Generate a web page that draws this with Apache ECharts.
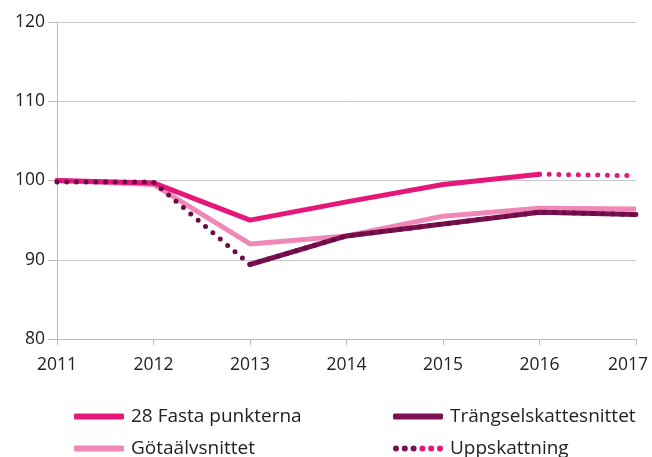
<!DOCTYPE html>
<html>
<head>
<meta charset="utf-8">
<script src="https://cdn.jsdelivr.net/npm/echarts@6/dist/echarts.min.js"></script>
<style>
  html, body { margin: 0; padding: 0; background: #fff; }
  #chart { width: 652px; height: 457px; }
</style>
</head>
<body>
<div id="chart"></div>
<script>
// Data
const years = ['2011', '2012', '2013', '2014', '2015', '2016', '2017'];
const fastaPunkterna = [100, 99.7, 95.0, 97.3, 99.5, 100.8, null];
const gotaalvsnittet = [100, 99.5, 92.0, 93.0, 95.5, 96.5, 96.4];
const trangselsnittet = [null, null, 89.4, 93.0, 94.5, 96.0, 95.7];
const uppskattningDark = [99.8, 99.8, 89.4, 93.0, 94.5, 96.0, 95.7];
const uppskattningPink = [null, null, null, null, null, 100.8, 100.6];

const PINK = '#e5177b';
const LIGHT = '#ef88b7';
const DARK = '#7b1152';
const FONT = 'Open Sans';

const chart = echarts.init(document.getElementById('chart'));

const dots = (color) => ({ color: color, width: 5, type: [0, 9.7], cap: 'round' });

// six round dots, used as legend icon for the estimate series
const dotIcon = 'path://' + [3, 11.8, 20.6, 29.4, 38.2, 47]
  .map(cx => `M${cx - 3},3A3,3,0,1,0,${cx + 3},3A3,3,0,1,0,${cx - 3},3Z`).join(' ');

const legendItem = (name, left, top, icon, color) => ({
  left: left, top: top,
  itemWidth: 50, itemHeight: 6, itemGap: 0,
  icon: icon,
  textStyle: { fontSize: 19, color: '#222', fontFamily: FONT, padding: [0, 0, 0, 2] },
  data: [{ name: name, itemStyle: { color: color } }]
});

chart.setOption({
  animation: false,
  textStyle: { fontFamily: FONT },
  grid: { left: 57, right: 16, top: 22, bottom: 118, outerBoundsMode: 'none' },
  legend: [
    legendItem('28 Fasta punkterna', 69, 402, 'roundRect', PINK),
    legendItem('Götaälvsnittet', 69, 434, 'roundRect', LIGHT),
    legendItem('Trängselskattesnittet', 388, 402, 'roundRect', DARK),
    legendItem('Uppskattning', 388, 434, dotIcon, new echarts.graphic.LinearGradient(0, 0, 1, 0, [
      { offset: 0, color: DARK }, { offset: 0.5, color: DARK },
      { offset: 0.5, color: PINK }, { offset: 1, color: PINK }
    ]))
  ],
  xAxis: {
    type: 'category',
    data: years,
    boundaryGap: false,
    axisLine: { lineStyle: { color: '#bdbdbd', width: 1 } },
    axisTick: { show: true, interval: 0, alignWithLabel: true, length: 6, lineStyle: { color: '#bdbdbd' } },
    axisLabel: {
      interval: 0, hideOverlap: false,
      fontSize: 17.5, color: '#222', margin: 17,
      formatter: (v, i) => i === years.length - 1 ? `{last|${v}}` : v,
      rich: { last: { fontSize: 17.5, color: '#222', fontFamily: FONT, padding: [0, 16, 0, 0] } }
    }
  },
  yAxis: {
    type: 'value',
    min: 80, max: 120, interval: 10,
    axisLine: { show: true, lineStyle: { color: '#bdbdbd' } },
    axisTick: { show: true, length: 9, lineStyle: { color: '#bdbdbd' } },
    axisLabel: { fontSize: 17.5, color: '#222', margin: 12 },
    splitLine: { lineStyle: { color: '#c8c8c8', width: 1 } }
  },
  series: [
    {
      name: 'Götaälvsnittet', type: 'line', data: gotaalvsnittet,
      showSymbol: false, symbol: 'none', z: 2,
      itemStyle: { color: LIGHT },
      lineStyle: { color: LIGHT, width: 5 }
    },
    {
      name: '28 Fasta punkterna', type: 'line', data: fastaPunkterna,
      showSymbol: false, symbol: 'none', z: 3,
      itemStyle: { color: PINK },
      lineStyle: { color: PINK, width: 5, cap: 'round' }
    },
    {
      name: 'Trängselskattesnittet', type: 'line', data: trangselsnittet,
      showSymbol: false, symbol: 'none', z: 4,
      itemStyle: { color: DARK },
      lineStyle: { color: DARK, width: 5, cap: 'round' }
    },
    {
      name: 'Uppskattning', type: 'line', data: uppskattningDark,
      showSymbol: false, symbol: 'none', z: 5,
      itemStyle: { color: DARK },
      lineStyle: dots('#6a0d46')
    },
    {
      name: 'Uppskattning', type: 'line', data: uppskattningPink,
      showSymbol: false, symbol: 'none', z: 5,
      itemStyle: { color: PINK },
      lineStyle: dots(PINK)
    }
  ]
});
</script>
</body>
</html>
